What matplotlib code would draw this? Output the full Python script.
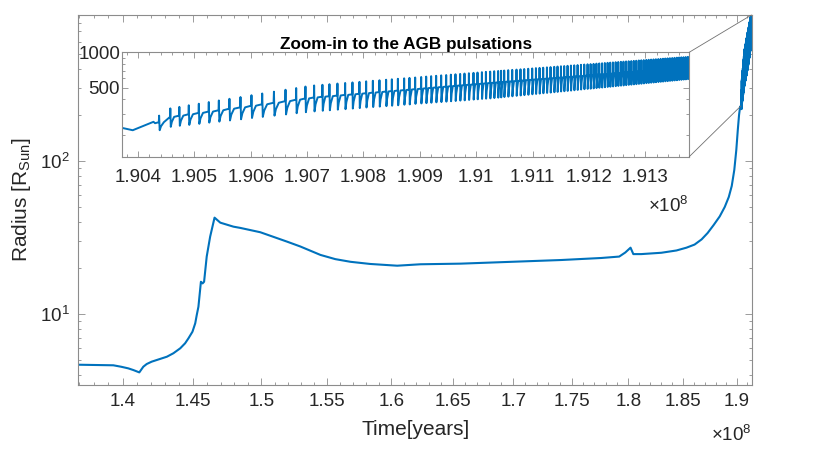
import numpy as np
import matplotlib
matplotlib.use('Agg')
import matplotlib.pyplot as plt
from matplotlib.patches import ConnectionPatch
from matplotlib.ticker import FixedLocator, FuncFormatter, LogLocator, NullFormatter, MultipleLocator

plt.rcParams['font.family'] = ['Liberation Sans', 'DejaVu Sans']
plt.rcParams['mathtext.fontset'] = 'custom'
plt.rcParams['mathtext.rm'] = 'Liberation Sans'

# stellar radius before the thermal pulses (time in units of 1e8 yr, radius in R_sun)
t_pre = [1.3694, 1.3935, 1.3989, 1.4039, 1.4074, 1.4116, 1.4144, 1.4168, 1.4203, 1.4311,
         1.4357, 1.4406, 1.4441, 1.4465, 1.4494, 1.4514, 1.4525, 1.4537, 1.4555, 1.4567,
         1.4578, 1.4597, 1.4622, 1.4654, 1.4696, 1.4792, 1.4843, 1.4991, 1.5191, 1.5292,
         1.5446, 1.5561, 1.5679, 1.5833, 1.6047, 1.6234, 1.6561, 1.7067, 1.7410, 1.7761,
         1.7920, 1.7974, 1.8021, 1.8046, 1.8117, 1.8299, 1.8437, 1.8529, 1.8604, 1.8669,
         1.8725, 1.8781, 1.8838, 1.8885, 1.8923, 1.8951, 1.8975, 1.8994, 1.9008, 1.9020,
         1.9030, 1.903711, 1.903906, 1.904274, 1.904302]
r_pre = [4.69, 4.65, 4.55, 4.44, 4.33, 4.18, 4.55, 4.74, 4.91, 5.29,
         5.57, 6.0, 6.47, 6.97, 7.70, 8.74, 9.9, 11.2, 16.3, 15.9,
         16.3, 23.8, 32.1, 42.7, 39.6, 37.3, 36.6, 34.3, 29.8, 27.7,
         24.4, 22.9, 22.0, 21.3, 20.75, 21.2, 21.4, 22.1, 22.6, 23.3,
         23.8, 25.3, 27.2, 24.7, 24.7, 25.2, 26.08, 27.2, 28.5, 30.8,
         33.9, 38.2, 43.5, 50.1, 58.2, 68.7, 87.4, 118, 159, 199.6,
         226, 228.5, 218, 257, 250]

# AGB pulsations: onset time (kyr after 1.904e8 yr), radius before, at peak and at dip
pulse_kyr = [36.8, 56.8, 72.8, 89.5, 107.3, 125.0, 142.8, 161.6, 181.2, 200.7,
             219.7, 240.5, 261.1, 280.1, 296.6,
             312.0, 326.8, 339.2, 353.4, 367.1, 380.1, 392.5, 404.4, 416.3, 428.0,
             439.9, 450.0, 460.7, 471.9, 481.3, 491.4, 502.1, 511.0, 519.8, 528.7,
             537.6, 546.5, 554.8, 563.0, 571.3, 579.0, 586.8, 595.0, 602.1, 609.9,
             617.0, 624.6, 631.7, 638.8,
             644.0,
             649.5, 656.6, 663.7, 671.3, 678.4, 685.0, 692.1, 699.2, 705.8, 712.2,
             718.7, 725.3, 731.7, 738.3, 744.1, 750.2, 756.0, 761.9, 767.9, 773.8,
             779.7, 785.7, 791.6, 797.4, 802.8, 808.1, 813.2, 818.2, 823.2, 828.1,
             833.0, 837.7, 842.5, 847.3, 851.9, 856.6, 861.2, 865.8, 870.4, 875.0,
             879.5, 883.9, 888.4, 892.8, 897.2, 901.7, 905.9, 910.2, 914.5, 918.7,
             923.0, 927.2, 931.3, 935.4, 939.5, 943.6, 947.7, 951.8, 955.9, 959.9,
             963.8, 967.8, 971.7, 975.6]
pulse_base = [255, 283, 290, 298, 306, 314, 322, 332, 341, 352,
              362, 373, 385, 396, 406,
              414, 420, 424, 430, 435, 440, 445, 450, 455, 460,
              465, 469, 474, 478, 483, 487, 492, 496, 500, 504,
              508, 512, 516, 520, 524, 527, 531, 535, 538, 542,
              546, 550, 553, 557,
              559,
              562, 565, 568, 572, 575, 579, 582, 586, 589, 592,
              595, 598, 602, 605, 608, 611, 614, 617, 620, 623,
              626, 629, 632, 636, 638, 641, 644, 647, 649, 652,
              655, 657, 660, 663, 665, 668, 671, 673, 676, 678,
              681, 683, 686, 688, 691, 693, 696, 698, 701, 703,
              706, 708, 711, 713, 716, 718, 720, 723, 725, 728,
              730, 733, 735, 737]
pulse_peak = [290, 334, 344, 355, 366, 378, 390, 403, 417, 432,
              447, 463, 481, 497, 512,
              523, 530, 536, 543, 549, 555, 561, 567, 573, 579,
              585, 590, 596, 601, 606, 611, 617, 622, 627, 632,
              637, 641, 646, 651, 655, 660, 664, 669, 673, 678,
              682, 686, 691, 694,
              697,
              700, 705, 709, 713, 717, 721, 725, 729, 734, 737,
              740, 745, 749, 753, 757, 761, 764, 768, 772, 775,
              779, 783, 787, 791, 794, 797, 801, 804, 807, 811,
              814, 817, 820, 824, 827, 830, 833, 836, 839, 842,
              845, 848, 852, 855, 858, 861, 864, 867, 870, 873,
              876, 879, 882, 885, 888, 891, 894, 897, 900, 903,
              906, 908, 911, 914]
pulse_dip = [218, 233, 238, 242, 247, 253, 258, 264, 270, 277,
             283, 290, 297, 304, 310,
             315, 319, 322, 326, 329, 333, 336, 340, 343, 346,
             349, 352, 355, 359, 361, 365, 368, 370, 373, 376,
             378, 381, 384, 386, 389, 391, 394, 397, 399, 402,
             404, 406, 409, 412,
             414,
             417, 420, 423, 427, 430, 433, 436, 440, 443, 446,
             449, 452, 455, 458, 461, 465, 467, 470, 473, 476,
             479, 483, 486, 489, 491, 494, 497, 500, 502, 505,
             508, 510, 513, 516, 518, 521, 523, 526, 529, 531,
             534, 536, 539, 541, 544, 547, 549, 552, 554, 557,
             559, 562, 564, 567, 569, 572, 574, 577, 579, 582,
             584, 587, 589, 592]

main_ticks = [1.40, 1.45, 1.50, 1.55, 1.60, 1.65, 1.70, 1.75, 1.80, 1.85, 1.90]
inset_ticks = [1.904, 1.905, 1.906, 1.907, 1.908, 1.909, 1.910, 1.911, 1.912, 1.913]

blue = '#0072BD'
axcol = '#8c8c8c'
txtcol = '#262626'

# build the full track in years
t = list(np.array(t_pre) * 1e8)
r = list(r_pre)
tp = 1.904e8 + np.array(pulse_kyr) * 1e3
per = np.diff(tp)
per = np.append(per, per[-1])
for i in range(len(tp)):
    P = per[i]
    t += [tp[i], tp[i] + 0.03 * P, tp[i] + 0.08 * P, tp[i] + 0.2 * P, tp[i] + 0.45 * P]
    r += [pulse_base[i], pulse_peak[i], pulse_dip[i],
          np.sqrt(pulse_dip[i] * pulse_base[i]), pulse_base[i]]
t = np.array(t)
r = np.array(r)

fig = plt.figure(figsize=(8.3, 4.68), dpi=100)
ax = fig.add_axes([0.0943, 0.1774, 0.8120, 0.7906])
ax.plot(t, r, color=blue, lw=1.5)
ax.set_xscale('log')
ax.set_yscale('log')
ax.set_xlim(1.3694e8, 1.9145e8)
ax.set_ylim(3.46, 896)
ax.xaxis.set_major_locator(FixedLocator(np.array(main_ticks) * 1e8))
ax.xaxis.set_major_formatter(FuncFormatter(lambda v, p: f'{v / 1e8:g}'))
ax.xaxis.set_minor_locator(FixedLocator(np.arange(137, 192) * 1e6))
ax.xaxis.set_minor_formatter(NullFormatter())
ax.yaxis.set_minor_locator(LogLocator(base=10, subs=np.arange(2, 10)))
ax.yaxis.set_minor_formatter(NullFormatter())
ax.tick_params(which='both', direction='in', top=True, right=True, color=axcol,
               labelcolor=txtcol, labelsize=13.5, width=0.6)
ax.tick_params(which='major', length=5, pad=6)
ax.tick_params(which='minor', length=2.5)
for s in ax.spines.values():
    s.set_color(axcol)
    s.set_linewidth(0.8)
ax.set_xlabel('Time[years]', fontsize=15, color=txtcol, labelpad=7)
ax.set_ylabel('Radius [R$_{\\mathrm{Sun}}$]', fontsize=15, color=txtcol, labelpad=5)
ax.text(1.0, -0.135, r'$\times10^{8}$', transform=ax.transAxes, ha='right',
        va='center', fontsize=13.5, color=txtcol)

# inset
axi = fig.add_axes([0.1473, 0.6652, 0.6831, 0.2231])
axi.plot(t, r, color=blue, lw=1.4)
axi.set_yscale('log')
axi.set_xlim(1.90372e8, 1.91378e8)
axi.set_ylim(130, 1000)
axi.xaxis.set_major_locator(FixedLocator(np.array(inset_ticks) * 1e8))
axi.xaxis.set_major_formatter(FuncFormatter(lambda v, p: f'{v / 1e8:g}'))
axi.xaxis.set_minor_locator(MultipleLocator(2e4))
axi.yaxis.set_major_locator(FixedLocator([500, 1000]))
axi.yaxis.set_major_formatter(FuncFormatter(lambda v, p: f'{v:g}'))
axi.yaxis.set_minor_locator(LogLocator(base=10, subs=np.arange(2, 10)))
axi.yaxis.set_minor_formatter(NullFormatter())
axi.tick_params(which='both', direction='in', top=True, right=True, color=axcol,
                labelcolor=txtcol, labelsize=13.5, width=0.6)
axi.tick_params(which='major', length=4)
axi.tick_params(axis='x', which='major', pad=9)
axi.tick_params(axis='y', which='major', pad=1.5)
axi.tick_params(which='minor', length=2)
for s in axi.spines.values():
    s.set_color(axcol)
    s.set_linewidth(0.8)
axi.set_title('Zoom-in to the AGB pulsations', fontsize=12.3, fontweight='bold',
              color='black', pad=2)
axi.text(1.0, -0.47, r'$\times10^{8}$', transform=axi.transAxes, ha='right',
         va='center', fontsize=13.5, color=txtcol)

# connector lines from the inset to the zoomed part of the track
x0, x1 = axi.get_xlim()
for xa, ya, xb, yb in [(1, 1, x1, ax.get_ylim()[1]), (1, 0, x0, r[np.argmin(abs(t - x0))])]:
    cp = ConnectionPatch(xyA=(xa, ya), coordsA=axi.transAxes, xyB=(xb, yb),
                         coordsB=ax.transData, color='#707070', lw=0.6)
    fig.add_artist(cp)

fig.savefig('out.png', dpi=100)
